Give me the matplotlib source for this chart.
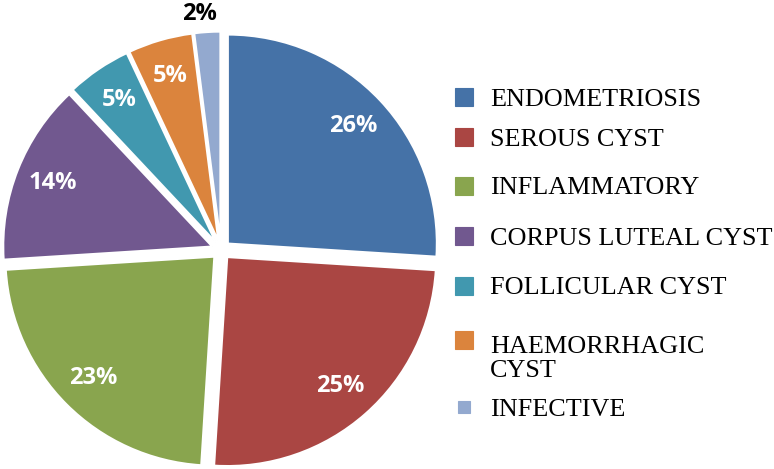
import matplotlib.pyplot as plt
from matplotlib.patches import Rectangle

labels = ['ENDOMETRIOSIS', 'SEROUS CYST', 'INFLAMMATORY', 'CORPUS LUTEAL CYST',
          'FOLLICULAR CYST', 'HAEMORRHAGIC\nCYST', 'INFECTIVE']
values = [26, 25, 23, 14, 5, 5, 2]
colors = ['#4572A7', '#AA4643', '#89A54E', '#71588F', '#4198AF', '#DB843D', '#93A9CF']

fig = plt.figure(figsize=(7.74, 4.69), dpi=100)
ax = fig.add_axes([0, 0, 1, 1])

wedges, texts, autotexts = ax.pie(values, colors=colors, startangle=90, counterclock=False,
                                  explode=[0.045] * len(values), radius=1,
                                  autopct='%d%%', pctdistance=0.82,
                                  wedgeprops={'edgecolor': 'white', 'linewidth': 1.5},
                                  textprops={'family': 'Open Sans', 'weight': 'bold',
                                             'fontsize': 17, 'color': 'white'})

# pie centre at px (221, 250), radius 209 px
cx, cy, r = 221, 469 - 250, 209
ax.set_aspect('auto')
ax.set_xlim(-cx / r, (774 - cx) / r)
ax.set_ylim(-cy / r, (469 - cy) / r)
ax.axis('off')

# smallest slice label sits outside the pie
x, y = autotexts[-1].get_position()
s = 1.13 / 0.865
autotexts[-1].set_position((x * s - 0.03, y * s))
autotexts[-1].set_color('black')

# legend
leg_y = [97, 137, 186, 236, 286, 340, 407]
for lab, col, py in zip(labels, colors, leg_y):
    size = 18 if lab != 'INFECTIVE' else 12
    fig.patches.append(Rectangle(((464 - size / 2) / 774, (469 - py - size / 2) / 469),
                                 size / 774, size / 469, transform=fig.transFigure,
                                 facecolor=col, edgecolor=col, linewidth=0.8))
    extra = 28 * lab.count('\n')
    fig.text(490 / 774, (469 - py - 8.5 - extra) / 469, lab, family='Liberation Serif',
             fontsize=18.8, va='baseline', ha='left', linespacing=1.1)

fig.savefig('out.png', dpi=100)
